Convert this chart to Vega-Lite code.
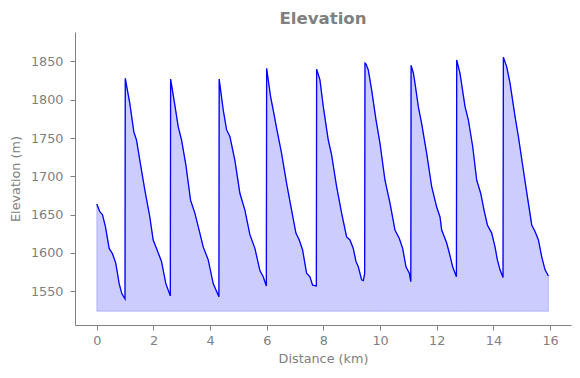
{
  "$schema": "https://vega.github.io/schema/vega-lite/v6.json",
  "width": 496,
  "height": 293,
  "autosize": {"type": "none"},
  "padding": {"left": 75, "top": 32, "right": 9, "bottom": 53},
  "background": "white",
  "config": {
    "view": {"stroke": null},
    "font": "DejaVu Sans",
    "axis": {
      "grid": false,
      "domainColor": "#808080",
      "tickColor": "#808080",
      "labelColor": "#808080",
      "titleColor": "#808080",
      "labelFont": "DejaVu Sans",
      "titleFont": "DejaVu Sans",
      "labelFontSize": 12.8,
      "titleFontSize": 12.8,
      "titleFontWeight": "normal",
      "tickSize": 5,
      "domainWidth": 1,
      "tickWidth": 1
    }
  },
  "title": {
    "text": "Elevation",
    "font": "DejaVu Sans",
    "fontSize": 16.6,
    "fontWeight": "bold",
    "color": "#808080",
    "anchor": "middle",
    "frame": "group",
    "baseline": "alphabetic",
    "offset": 9.3,
    "dy": 17.5
  },
  "data": {
    "values": [
      {"d": 0, "e": 1664}, {"d": 0.106, "e": 1654}, {"d": 0.2, "e": 1650}, {"d": 0.306, "e": 1634}, {"d": 0.436, "e": 1606}, {"d": 0.553, "e": 1599}, {"d": 0.671, "e": 1586.5}, {"d": 0.789, "e": 1560}, {"d": 0.883, "e": 1547}, {"d": 0.995, "e": 1540},
      {"d": 1.005, "e": 1828},
      {"d": 1.166, "e": 1795}, {"d": 1.307, "e": 1758}, {"d": 1.401, "e": 1747.5}, {"d": 1.519, "e": 1721}, {"d": 1.696, "e": 1682}, {"d": 1.872, "e": 1647}, {"d": 1.99, "e": 1617}, {"d": 2.108, "e": 1606}, {"d": 2.284, "e": 1589}, {"d": 2.437, "e": 1560}, {"d": 2.595, "e": 1544},
      {"d": 2.605, "e": 1827},
      {"d": 2.755, "e": 1793}, {"d": 2.873, "e": 1765}, {"d": 2.991, "e": 1747.5}, {"d": 3.144, "e": 1715}, {"d": 3.309, "e": 1669}, {"d": 3.462, "e": 1652}, {"d": 3.638, "e": 1626}, {"d": 3.756, "e": 1608}, {"d": 3.933, "e": 1591}, {"d": 4.109, "e": 1560}, {"d": 4.31, "e": 1543},
      {"d": 4.32, "e": 1827},
      {"d": 4.462, "e": 1787}, {"d": 4.58, "e": 1761}, {"d": 4.698, "e": 1752}, {"d": 4.875, "e": 1721}, {"d": 5.051, "e": 1678}, {"d": 5.228, "e": 1656}, {"d": 5.404, "e": 1624}, {"d": 5.581, "e": 1606}, {"d": 5.758, "e": 1577}, {"d": 5.875, "e": 1569}, {"d": 5.985, "e": 1557},
      {"d": 5.995, "e": 1841},
      {"d": 6.135, "e": 1804}, {"d": 6.252, "e": 1782}, {"d": 6.347, "e": 1763}, {"d": 6.523, "e": 1730}, {"d": 6.7, "e": 1691}, {"d": 6.876, "e": 1656}, {"d": 7.029, "e": 1626}, {"d": 7.147, "e": 1617}, {"d": 7.265, "e": 1604}, {"d": 7.406, "e": 1573.5}, {"d": 7.524, "e": 1569}, {"d": 7.618, "e": 1558}, {"d": 7.75, "e": 1557},
      {"d": 7.76, "e": 1840},
      {"d": 7.877, "e": 1826}, {"d": 7.995, "e": 1791}, {"d": 8.171, "e": 1747.5}, {"d": 8.289, "e": 1728}, {"d": 8.466, "e": 1686.5}, {"d": 8.642, "e": 1652}, {"d": 8.819, "e": 1621}, {"d": 8.937, "e": 1617}, {"d": 9.054, "e": 1606}, {"d": 9.149, "e": 1589}, {"d": 9.231, "e": 1582}, {"d": 9.349, "e": 1565}, {"d": 9.408, "e": 1564}, {"d": 9.455, "e": 1573},
      {"d": 9.467, "e": 1848}, {"d": 9.5, "e": 1847},
      {"d": 9.584, "e": 1839}, {"d": 9.702, "e": 1813}, {"d": 9.855, "e": 1774}, {"d": 9.997, "e": 1743}, {"d": 10.173, "e": 1695}, {"d": 10.35, "e": 1665}, {"d": 10.526, "e": 1630}, {"d": 10.679, "e": 1619}, {"d": 10.797, "e": 1606}, {"d": 10.915, "e": 1582}, {"d": 11.033, "e": 1573.5}, {"d": 11.085, "e": 1562.5},
      {"d": 11.095, "e": 1845},
      {"d": 11.174, "e": 1835}, {"d": 11.233, "e": 1821.5}, {"d": 11.35, "e": 1791}, {"d": 11.468, "e": 1769}, {"d": 11.645, "e": 1730}, {"d": 11.822, "e": 1686.5}, {"d": 11.998, "e": 1660}, {"d": 12.116, "e": 1647}, {"d": 12.175, "e": 1630}, {"d": 12.351, "e": 1613}, {"d": 12.445, "e": 1600}, {"d": 12.563, "e": 1582}, {"d": 12.695, "e": 1569},
      {"d": 12.705, "e": 1852},
      {"d": 12.822, "e": 1834.6}, {"d": 12.999, "e": 1791}, {"d": 13.117, "e": 1773.6}, {"d": 13.27, "e": 1739}, {"d": 13.411, "e": 1695}, {"d": 13.552, "e": 1678}, {"d": 13.67, "e": 1656}, {"d": 13.788, "e": 1636.6}, {"d": 13.941, "e": 1626}, {"d": 14.058, "e": 1608}, {"d": 14.141, "e": 1591}, {"d": 14.235, "e": 1578}, {"d": 14.34, "e": 1568},
      {"d": 14.353, "e": 1855.5},
      {"d": 14.471, "e": 1843}, {"d": 14.589, "e": 1821.5}, {"d": 14.765, "e": 1778}, {"d": 14.883, "e": 1752}, {"d": 15.059, "e": 1708}, {"d": 15.2, "e": 1673.5}, {"d": 15.354, "e": 1636.6}, {"d": 15.471, "e": 1628}, {"d": 15.589, "e": 1617}, {"d": 15.707, "e": 1595}, {"d": 15.825, "e": 1578}, {"d": 15.942, "e": 1570}
    ]
  },
  "encoding": {
    "x": {
      "field": "d",
      "type": "quantitative",
      "scale": {"domain": [-0.77, 16.74], "nice": false, "zero": false},
      "axis": {"values": [0, 2, 4, 6, 8, 10, 12, 14, 16], "format": "d", "title": "Distance (km)", "labelPadding": 4, "titlePadding": 6}
    },
    "y": {
      "field": "e",
      "type": "quantitative",
      "scale": {"domain": [1506, 1888.5], "nice": false, "zero": false},
      "axis": {"values": [1550, 1600, 1650, 1700, 1750, 1800, 1850], "format": "d", "title": "Elevation (m)", "labelPadding": 7, "titlePadding": 8}
    }
  },
  "layer": [
    {
      "mark": {"type": "area", "fill": "#0000ff", "fillOpacity": 0.2, "stroke": "#0000ff", "strokeOpacity": 0.2, "strokeWidth": 1},
      "encoding": {"y2": {"datum": 1524}}
    },
    {
      "mark": {"type": "line", "color": "#0000ff", "strokeWidth": 1.3}
    }
  ]
}
